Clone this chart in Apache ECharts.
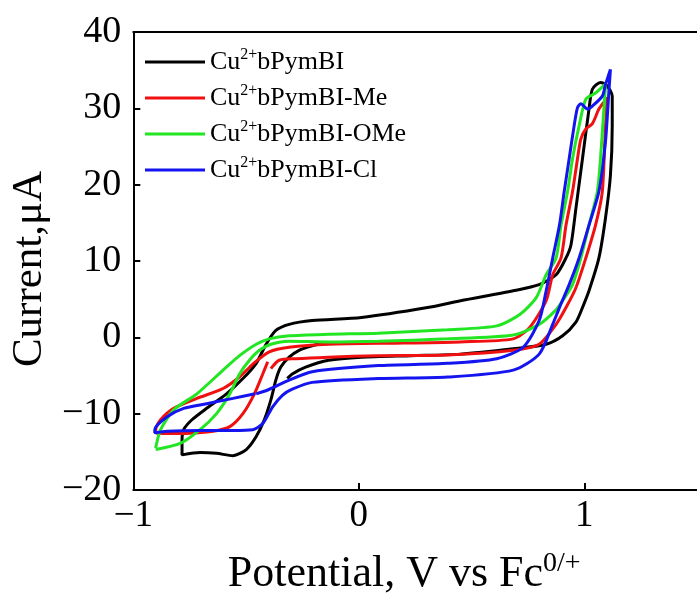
<!DOCTYPE html>
<html>
<head>
<meta charset="utf-8">
<script src="https://cdn.jsdelivr.net/npm/echarts@6/dist/echarts.min.js"></script>
<style>
  html, body { margin: 0; padding: 0; background: #fff; }
  #main { width: 697px; height: 601px; }
</style>
</head>
<body>
<div id="main"></div>
<script type="text/javascript">
    // series names and colours
    var seriesNames = ['Cu2+bPymBI', 'Cu2+bPymBI-Me', 'Cu2+bPymBI-OMe', 'Cu2+bPymBI-Cl'];
    var seriesColors = ['#000000', '#f01010', '#22e622', '#1414f0'];

    // axis ticks
    var xTicks = [-1, 0, 1];
    var yTicks = [-20, -10, 0, 10, 20, 30, 40];

    // potential (V vs Fc) and current (uA), in scan order
    var blackV = [-0.163, -0.207, -0.265, -0.309, -0.346, -0.368, -0.390, -0.419, -0.455, -0.499, -0.558, -0.631, -0.704, -0.784,
        -0.784, -0.777, -0.740, -0.675, -0.587, -0.514, -0.455, -0.411, -0.368, -0.309, -0.207, 0.012, 0.305, 0.451, 0.685, 0.800, 0.875, 0.919, 0.941, 0.963, 0.992, 1.021, 1.036, 1.072, 1.100, 1.124,
        1.124, 1.116, 1.094, 1.065, 1.021, 0.992, 0.963, 0.904, 0.831, 0.685, 0.451, 0.232, 0.012, -0.134, -0.236, -0.295, -0.317];
    var blackI = [-0.8, -1.1, -1.7, -2.6, -3.9, -5.6, -8.2, -10.8, -13.0, -14.7, -15.5, -15.2, -15.1, -15.4,
        -13.5, -12.1, -10.8, -9.3, -7.4, -5.4, -3.4, -0.9, 0.9, 1.7, 2.2, 2.6, 3.9, 4.8, 6.1, 6.9, 8.2, 10.4, 12.1, 16.9, 23.4, 29.9, 32.5, 33.4, 33.0, 31.6,
        27.7, 21.2, 15.6, 10.4, 6.1, 3.9, 2.0, 0.2, -0.9, -1.5, -2.2, -2.4, -2.6, -3.0, -3.9, -4.8, -5.4];

    var redV = [-0.404, -0.426, -0.463, -0.514, -0.572, -0.646, -0.748, -0.836, -0.901,
        -0.901, -0.879, -0.821, -0.718, -0.602, -0.529, -0.470, -0.397, -0.309, -0.134, 0.200, 0.450, 0.685, 0.758, 0.831, 0.860, 0.897, 0.919, 0.948, 0.970, 0.985, 1.007, 1.036, 1.065, 1.102,
        1.094, 1.080, 1.050, 1.007, 0.963, 0.919, 0.875, 0.800, 0.685, 0.394, 0.086, -0.134, -0.280, -0.353, -0.390];
    var redI = [-3.2, -4.8, -7.4, -10.0, -11.7, -12.3, -12.55, -12.6, -12.55,
        -12.1, -10.8, -9.3, -8.0, -6.7, -5.2, -3.5, -1.9, -1.3, -0.9, -0.75, -0.6, -0.2, 1.3, 4.8, 8.2, 10.4, 14.7, 19.1, 23.4, 26.0, 27.3, 28.0, 29.9, 31.4,
        27.7, 19.1, 14.7, 10.4, 6.5, 3.9, 1.7, -0.9, -1.7, -2.3, -2.4, -2.6, -2.8, -3.0, -4.1];

    var greenV = [-0.901, -0.879, -0.821, -0.718, -0.602, -0.529, -0.455, -0.397, -0.309, -0.134, 0.086, 0.394, 0.612, 0.714, 0.787, 0.831, 0.875, 0.897, 0.926, 0.948, 0.977, 1.007, 1.050, 1.080, 1.095,
        1.087, 1.072, 1.058, 1.021, 0.985, 0.948, 0.904, 0.875, 0.800, 0.685, 0.394, 0.086, -0.134, -0.309, -0.390, -0.441, -0.485, -0.529, -0.572, -0.631, -0.704, -0.792, -0.901];
    var greenI = [-14.5, -12.1, -9.5, -7.4, -4.3, -2.4, -0.9, -0.2, 0.2, 0.4, 0.55, 1.0, 1.5, 3.0, 5.2, 8.2, 10.4, 14.7, 19.1, 23.4, 27.7, 31.2, 32.0, 32.8, 33.2,
        29.9, 23.4, 19.1, 14.7, 10.4, 6.9, 4.8, 3.6, 1.7, 0.3, -0.2, -0.5, -0.6, -0.5, -0.9, -1.7, -3.0, -4.8, -7.4, -10.0, -12.1, -13.9, -14.7];

    var blueV = [-0.455, -0.404, -0.309, -0.207, 0.086, 0.394, 0.612, 0.729, 0.800, 0.831, 0.860, 0.890, 0.911, 0.933, 0.955, 0.970, 0.985, 1.014, 1.036, 1.080, 1.094, 1.116,
        1.109, 1.094, 1.065, 1.021, 0.977, 0.933, 0.890, 0.860, 0.800, 0.685, 0.394, 0.086, -0.207, -0.295, -0.339, -0.382, -0.426, -0.470, -0.560, -0.700, -0.850, -0.905,
        -0.905, -0.850, -0.777, -0.675, -0.558, -0.460];
    var blueI = [-7.4, -6.9, -5.6, -4.5, -3.7, -3.4, -2.8, -1.3, 2.2, 6.1, 10.4, 14.7, 19.1, 23.4, 27.7, 30.1, 30.6, 29.9, 30.3, 31.6, 33.1, 35.1,
        32.1, 25.6, 19.1, 14.7, 10.4, 6.9, 3.9, 1.7, -2.2, -4.3, -5.2, -5.4, -5.9, -6.8, -7.6, -9.1, -11.3, -12.1, -12.2, -12.2, -12.3, -12.5,
        -12.1, -10.4, -9.3, -8.7, -8.0, -7.4];

    var allV = [blackV, redV, greenV, blueV];
    var allI = [blackI, redI, greenI, blueI];

    function minus(v) {
        return v < 0 ? '\u2212' + (-v) : String(v);
    }

    var series = [];
    for (var i = 0; i < seriesNames.length; i++) {
        var pts = [];
        for (var j = 0; j < allV[i].length; j++) {
            pts.push([allV[i][j], allI[i][j]]);
        }
        series.push({
            name: seriesNames[i],
            type: 'line',
            data: pts,
            smooth: 0.25,
            symbol: 'none',
            lineStyle: {color: seriesColors[i], width: 3},
            itemStyle: {color: seriesColors[i]}
        });
    }

    var serif = 'Liberation Serif, Times New Roman, serif';

    var myChart = echarts.init(document.getElementById('main'));
    var option = {
        animation: false,
        // the plot box runs past the right edge of the picture (x max 1.5)
        grid: {left: 133, top: 32, width: 570, bottom: 107},
        legend: {
            orient: 'vertical',
            left: 145, top: 47,
            padding: 0,
            itemGap: 8,
            itemWidth: 60, itemHeight: 3,
            icon: 'rect',
            data: seriesNames,
            formatter: function (name) {
                return '{t|Cu}{s|2+}{t|' + name.replace('Cu2+', '') + '}';
            },
            textStyle: {
                rich: {
                    t: {fontFamily: serif, fontSize: 26, color: '#000', lineHeight: 30},
                    s: {fontFamily: serif, fontSize: 16, color: '#000', verticalAlign: 'top', lineHeight: 16}
                }
            }
        },
        xAxis: [{
            type: 'value',
            min: -1, max: 1.5, interval: 1,
            name: '{t|Potential, V vs Fc}{s|0/+}',
            nameLocation: 'middle',
            nameGap: 60,
            nameTextStyle: {
                padding: [0, 22, 0, 0],
                rich: {
                    t: {fontFamily: serif, fontSize: 44, color: '#000', lineHeight: 48},
                    s: {fontFamily: serif, fontSize: 28, color: '#000', verticalAlign: 'top', lineHeight: 28}
                }
            },
            axisLine: {onZero: false, lineStyle: {color: '#000', width: 2}},
            axisTick: {inside: true, length: 7, lineStyle: {color: '#000', width: 2}},
            axisLabel: {
                fontFamily: serif, fontSize: 37, color: '#000', margin: 8,
                showMaxLabel: false,
                formatter: function (v) { return xTicks.indexOf(v) >= 0 ? minus(v) : ''; }
            },
            splitLine: {show: false}
        }, {
            // top frame line
            type: 'value',
            position: 'top',
            min: -1, max: 1.5,
            axisLine: {onZero: false, lineStyle: {color: '#000', width: 2}},
            axisTick: {show: false},
            axisLabel: {show: false},
            splitLine: {show: false}
        }],
        yAxis: {
            type: 'value',
            min: yTicks[0], max: yTicks[yTicks.length - 1], interval: 10,
            name: 'Current,\u03bcA',
            nameLocation: 'middle',
            nameGap: 82,
            nameTextStyle: {fontFamily: serif, fontSize: 43, color: '#000', padding: [0, 16, 0, 0]},
            axisLine: {onZero: false, lineStyle: {color: '#000', width: 2}},
            axisTick: {inside: true, length: 7, lineStyle: {color: '#000', width: 2}},
            axisLabel: {
                fontFamily: serif, fontSize: 38, color: '#000', margin: 12,
                formatter: function (v) { return minus(v); }
            },
            splitLine: {show: false}
        },
        series: series
    };
    myChart.setOption(option);
</script>
</body>
</html>
